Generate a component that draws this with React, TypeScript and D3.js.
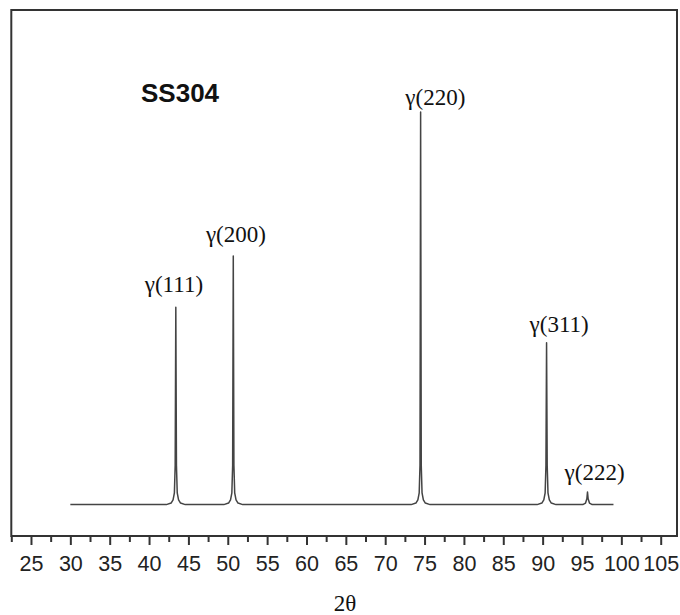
import React, { useRef, useEffect } from 'react';
import * as d3 from 'd3';

// diffraction pattern: [2theta, intensity]
const spectrum: [number, number][] = [
  [30.0, 0], [42.2, 0], [42.8, 0.4], [43.05, 1.2], [43.22, 3], [43.32, 10], [43.4, 50.3], [43.48, 10], [43.58, 3], [43.75, 1.2], [44.0, 0.4], [44.6, 0],
  [49.5, 0], [50.1, 0.4], [50.35, 1.2], [50.52, 3], [50.62, 10], [50.7, 63.3], [50.78, 10], [50.88, 3], [51.05, 1.2], [51.3, 0.4], [51.9, 0],
  [73.3, 0], [73.9, 0.4], [74.15, 1.2], [74.32, 3], [74.42, 10], [74.5, 100], [74.58, 10], [74.68, 3], [74.85, 1.2], [75.1, 0.4], [75.7, 0],
  [89.3, 0], [89.9, 0.4], [90.15, 1.2], [90.32, 3], [90.42, 10], [90.5, 41.2], [90.58, 10], [90.68, 3], [90.85, 1.2], [91.1, 0.4], [91.7, 0],
  [95.1, 0], [95.45, 0.4], [95.62, 1.5], [95.7, 3.2], [95.78, 1.5], [95.95, 0.4], [96.3, 0],
  [99.0, 0],
];

const peakLabels = ['γ(111)', 'γ(200)', 'γ(220)', 'γ(311)', 'γ(222)'];
const labelX = [43.16, 51.03, 76.37, 92.1, 96.6];
const labelY = [54.2, 66.9, 101.8, 44.0, 6.3];

const majorTicks = [25, 30, 35, 40, 45, 50, 55, 60, 65, 70, 75, 80, 85, 90, 95, 100, 105];
const minorTicks = [22.5, 27.5, 32.5, 37.5, 42.5, 47.5, 52.5, 57.5, 62.5, 67.5, 72.5, 77.5, 82.5, 87.5, 92.5, 97.5, 102.5];

const sampleName = 'SS304';
const xTitle = '2θ';

const App = () => {
  const svgRef = useRef<SVGSVGElement>(null);

  useEffect(() => {
    const svg = d3.select(svgRef.current);
    svg.selectAll('*').remove();

    const left = 11.3, right = 677, top = 10, bottom = 536;

    const x = d3.scaleLinear().domain([22.5, 107.07]).range([left, right]);
    const y = d3.scaleLinear().domain([-8, 126]).range([bottom, top]);

    // frame
    svg.append('rect')
      .attr('x', left).attr('y', top)
      .attr('width', right - left).attr('height', bottom - top)
      .attr('fill', 'none')
      .attr('stroke', '#333')
      .attr('stroke-width', 2);

    // bottom axis with major and minor ticks
    const axisG = svg.append('g').attr('transform', `translate(0,${bottom})`);
    axisG.call(
      d3.axisBottom(x).tickValues(majorTicks).tickSize(9).tickPadding(11).tickFormat(d3.format('d'))
    );
    axisG.select('.domain').remove();
    axisG.selectAll('.tick line').attr('stroke', '#333').attr('stroke-width', 2);
    axisG.selectAll('.tick text')
      .attr('font-family', 'Liberation Sans, Arial, sans-serif')
      .attr('font-size', 21.5)
      .attr('fill', '#222');

    const minorG = svg.append('g').attr('transform', `translate(0,${bottom})`);
    minorG.call(d3.axisBottom(x).tickValues(minorTicks).tickSize(6).tickFormat(() => ''));
    minorG.select('.domain').remove();
    minorG.selectAll('.tick line').attr('stroke', '#333').attr('stroke-width', 2);

    // pattern
    const line = d3.line<[number, number]>()
      .x(d => x(d[0]))
      .y(d => y(d[1]));

    svg.append('path')
      .datum(spectrum)
      .attr('fill', 'none')
      .attr('stroke', '#444')
      .attr('stroke-width', 1.5)
      .attr('stroke-linejoin', 'round')
      .attr('d', line);

    // peak labels
    svg.selectAll('.peak-label')
      .data(peakLabels)
      .enter().append('text')
      .attr('class', 'peak-label')
      .attr('x', (d, i) => x(labelX[i]))
      .attr('y', (d, i) => y(labelY[i]))
      .attr('text-anchor', 'middle')
      .attr('font-family', 'Liberation Serif, Times New Roman, serif')
      .attr('font-size', 23)
      .attr('fill', '#111')
      .text(d => d);

    svg.append('text')
      .attr('x', 141)
      .attr('y', 101.5)
      .attr('font-family', 'Liberation Sans, Arial, sans-serif')
      .attr('font-weight', 'bold')
      .attr('font-size', 26)
      .attr('fill', '#111')
      .text(sampleName);

    svg.append('text')
      .attr('x', 345)
      .attr('y', 611)
      .attr('text-anchor', 'middle')
      .attr('font-family', 'Liberation Serif, Times New Roman, serif')
      .attr('font-size', 23)
      .attr('fill', '#111')
      .text(xTitle);
  }, []);

  return (
    <svg
      ref={svgRef}
      width={680}
      height={615}
      style={{ position: 'absolute', left: 0, top: 0, background: '#fff' }}
    />
  );
};

export default App;
